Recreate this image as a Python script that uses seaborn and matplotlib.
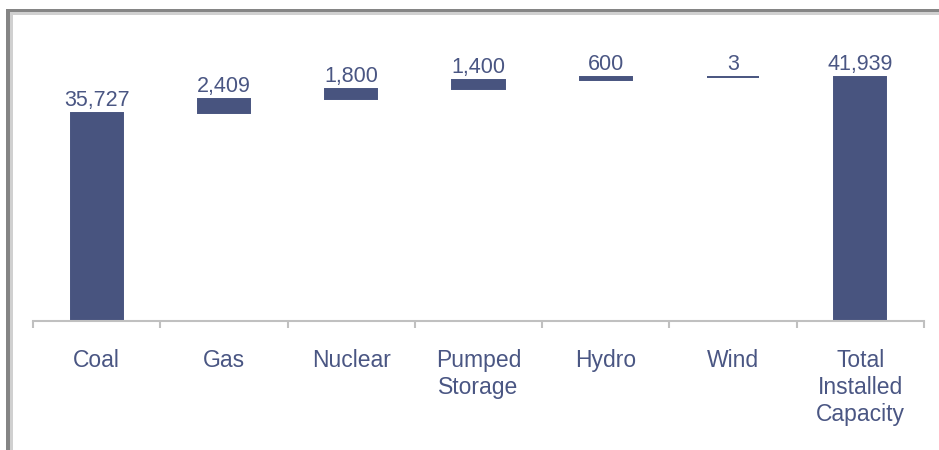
import numpy as np
import pandas as pd
import matplotlib
matplotlib.use("Agg")
import matplotlib.pyplot as plt
from matplotlib.patches import Rectangle
import seaborn as sns

# Installed generation capacity (MW) by source, plus the total
categories = ["Coal", "Gas", "Nuclear", "Pumped\nStorage", "Hydro", "Wind",
              "Total\nInstalled\nCapacity"]
values = [35727, 2409, 1800, 1400, 600, 3, 41939]
value_labels = ["35,727", "2,409", "1,800", "1,400", "600", "3", "41,939"]

# Waterfall: each intermediate step floats on the running total of the previous ones
bottoms = [0.0]
running = values[0]
for v in values[1:-1]:
    bottoms.append(running)
    running += v
bottoms.append(0.0)

df = pd.DataFrame({"source": categories, "capacity": values, "base": bottoms})

BAR = "#48547F"
TXT = "#4A5683"

sns.set_theme(style="white")
plt.rcParams["font.family"] = ["Liberation Sans", "DejaVu Sans"]

W, H = 939, 450
fig = plt.figure(figsize=(W / 100, H / 100), dpi=100)
ax = fig.add_axes([33 / W, (H - 321) / H, (924 - 33) / W, 280 / H])

sns.barplot(data=df, x="source", y="capacity", order=categories,
            bottom=df["base"].to_numpy(), color=BAR, saturation=1,
            width=0.41, edgecolor=BAR, linewidth=1.4, ax=ax)

ax.set_xlim(-0.5, len(categories) - 0.5)
ax.set_ylim(0, 48100)
ax.set_xlabel("")
ax.set_ylabel("")
ax.set_yticks([])

# value labels above each bar
for i, (b, v, lab) in enumerate(zip(bottoms, values, value_labels)):
    ax.annotate(lab, (i, b + v), xytext=(0, 5), textcoords="offset points",
                ha="center", va="baseline", fontsize=15.5, color=TXT)

# category labels under the axis, tick marks between categories
ax.set_xticks(range(len(categories)))
ax.set_xticklabels(categories, fontsize=16.5, color=TXT, linespacing=1.23)
ax.set_xticks(np.arange(-0.5, len(categories)), minor=True)
ax.tick_params(axis="x", which="major", length=0, pad=20)
ax.tick_params(axis="x", which="minor", length=5, width=1.5, color="#C0C0C0",
               direction="out", bottom=True)

for side in ["top", "right", "left"]:
    ax.spines[side].set_visible(False)
ax.spines["bottom"].set_color("#C0C0C0")
ax.spines["bottom"].set_linewidth(1.5)

# grey frame along the top and left edges of the figure
def px_rect(x0, y0, w, h, color):
    fig.add_artist(Rectangle((x0 / W, 1 - (y0 + h) / H), w / W, h / H,
                             transform=fig.transFigure, facecolor=color,
                             edgecolor="none", zorder=10))

px_rect(6, 9, W - 6, 3, "#858585")
px_rect(6, 9, 4, H - 9, "#858585")
px_rect(10, 12, W - 10, 2.5, "#D0D0D0")
px_rect(10, 12, 3, H - 12, "#D0D0D0")

fig.savefig("out.png", dpi=100)
